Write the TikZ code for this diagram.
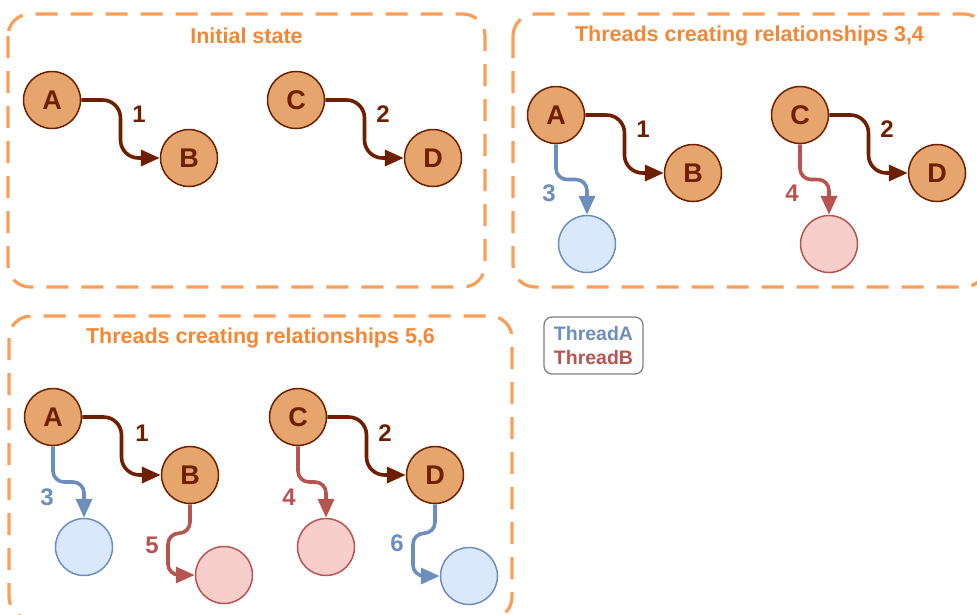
\documentclass[tikz,border=0pt]{standalone}
\usepackage{fontspec}
\setmainfont{Liberation Sans}
\usetikzlibrary{arrows.meta,calc}
\definecolor{panelorange}{RGB}{250,158,88}
\definecolor{titleorange}{RGB}{245,135,52}
\definecolor{nodefill}{RGB}{230,165,108}
\definecolor{nodebrown}{HTML}{6D1F00}
\definecolor{threadAline}{HTML}{6C8EBF}
\definecolor{threadAfill}{HTML}{DAE8FC}
\definecolor{threadBline}{HTML}{B85450}
\definecolor{threadBfill}{HTML}{F8CECC}
\definecolor{legendgray}{RGB}{128,128,128}
\tikzset{
  panel/.style={draw=panelorange,line width=3.2pt,dash pattern=on 22pt off 13pt,rounded corners=22pt},
  paneltitle/.style={text=titleorange,font=\fontsize{21.5}{25}\selectfont\bfseries},
  vertex/.style={draw=nodebrown,circle,line width=1.5pt,fill=nodefill,minimum size=57pt,inner sep=0pt,
    text=nodebrown,font=\fontsize{27}{30}\selectfont\bfseries},
  vertexA/.style={draw=threadAline,circle,line width=1.5pt,fill=threadAfill,minimum size=57pt,inner sep=0pt},
  vertexB/.style={draw=threadBline,circle,line width=1.5pt,fill=threadBfill,minimum size=57pt,inner sep=0pt},
  link/.style={line width=3.6pt,rounded corners=11pt,-{Triangle[length=19pt,width=16pt]}},
  mainlink/.style={link,draw=nodebrown,rounded corners=18pt},
  lbl/.style={font=\fontsize{24}{28}\selectfont\bfseries}
}
\begin{document}
\begin{tikzpicture}[x=1pt,y=-1pt]
  \useasboundingbox (0,0) rectangle (977,614);
  \clip (0,0) rectangle (977,614);
  % panels
  \draw[panel] (8,14) rectangle (485,287);
  \draw[panel] (513,14) rectangle (986,287);
  \draw[panel] (9,316) rectangle (512,619);
  \node[paneltitle] (t1) at (246.5,36) {Initial state};
  \node[paneltitle] (t2) at (749.5,36) {Threads creating relationships 3,4};
  \node[paneltitle] (t3) at (260.5,338) {Threads creating relationships 5,6};

  % initial state
  \node[vertex] (a1) at (52,100) {A};
  \node[vertex] (b1) at (189,158) {B};
  \node[vertex] (c1) at (296,100) {C};
  \node[vertex] (d1) at (433,158) {D};
  \coordinate (m11) at ($(a1.east)!.5!(b1.west)$);
  \coordinate (m12) at ($(c1.east)!.5!(d1.west)$);
  \draw[mainlink] (a1.east) -- (a1.east -| m11) -- (b1.west -| m11) -- (b1.west);
  \draw[mainlink] (c1.east) -- (c1.east -| m12) -- (d1.west -| m12) -- (d1.west);
  \draw (139,114) node[lbl,text=nodebrown] (l11) {1}
        (383,114) node[lbl,text=nodebrown] (l12) {2};

  % relationships 3,4
  \node[vertex] (a2) at (556,115) {A};
  \node[vertex] (b2) at (693,173) {B};
  \node[vertex] (c2) at (800,115) {C};
  \node[vertex] (d2) at (937,173) {D};
  \node[vertexA] (x2) at (587,244) {};
  \node[vertexB] (y2) at (829,244) {};
  \coordinate (m21) at ($(a2.east)!.5!(b2.west)$);
  \coordinate (m22) at ($(c2.east)!.5!(d2.west)$);
  \coordinate (m23) at ($(a2.south)!.5!(x2.north)$);
  \coordinate (m24) at ($(c2.south)!.5!(y2.north)$);
  \draw[mainlink] (a2.east) -- (a2.east -| m21) -- (b2.west -| m21) -- (b2.west);
  \draw[mainlink] (c2.east) -- (c2.east -| m22) -- (d2.west -| m22) -- (d2.west);
  \draw[link,threadAline] (a2.south) -- (a2.south |- m23) -- (x2.north |- m23) -- (x2.north);
  \draw[link,threadBline] (c2.south) -- (c2.south |- m24) -- (y2.north |- m24) -- (y2.north);
  \draw (643,129) node[lbl,text=nodebrown] (l21) {1}
        (887,129) node[lbl,text=nodebrown] (l22) {2}
        (549,193) node[lbl,text=threadAline] (l23) {3}
        (792,193) node[lbl,text=threadBline] (l24) {4};

  % relationships 5,6
  \node[vertex] (a3) at (53,417) {A};
  \node[vertex] (b3) at (190,475) {B};
  \node[vertex] (c3) at (298,417) {C};
  \node[vertex] (d3) at (435,475) {D};
  \node[vertexA] (x3) at (84,547) {};
  \node[vertexB] (y3) at (224,575) {};
  \node[vertexB] (z3) at (326,547) {};
  \node[vertexA] (w3) at (469,576) {};
  \coordinate (m31) at ($(a3.east)!.5!(b3.west)$);
  \coordinate (m32) at ($(c3.east)!.5!(d3.west)$);
  \coordinate (m33) at ($(a3.south)!.5!(x3.north)$);
  \coordinate (m34) at ($(c3.south)!.5!(z3.north)$);
  \draw[mainlink] (a3.east) -- (a3.east -| m31) -- (b3.west -| m31) -- (b3.west);
  \draw[mainlink] (c3.east) -- (c3.east -| m32) -- (d3.west -| m32) -- (d3.west);
  \draw[link,threadAline] (a3.south) -- (a3.south |- m33) -- (x3.north |- m33) -- (x3.north);
  \draw[link,threadBline] (c3.south) -- (c3.south |- m34) -- (z3.north |- m34) -- (z3.north);
  \draw[link,threadBline] (b3.south) |- ++(-22,29) |- (y3.west);
  \draw[link,threadAline] (d3.south) |- ++(-22,29) |- (w3.west);
  \draw (142,433) node[lbl,text=nodebrown] (l31) {1}
        (385,433) node[lbl,text=nodebrown] (l32) {2}
        (47,497) node[lbl,text=threadAline] (l33) {3}
        (289,497) node[lbl,text=threadBline] (l34) {4}
        (152,545) node[lbl,text=threadBline] (l35) {5}
        (397,543) node[lbl,text=threadAline] (l36) {6};

  % legend
  \node[draw=legendgray,line width=1.3pt,rounded corners=8pt,minimum width=99pt,minimum height=57pt,
        inner sep=5pt,align=left,font=\fontsize{19.5}{24}\selectfont\bfseries] (key) at (593.5,345.5)
        {\textcolor{threadAline}{ThreadA}\\\textcolor{threadBline}{ThreadB}};
\end{tikzpicture}
\end{document}
